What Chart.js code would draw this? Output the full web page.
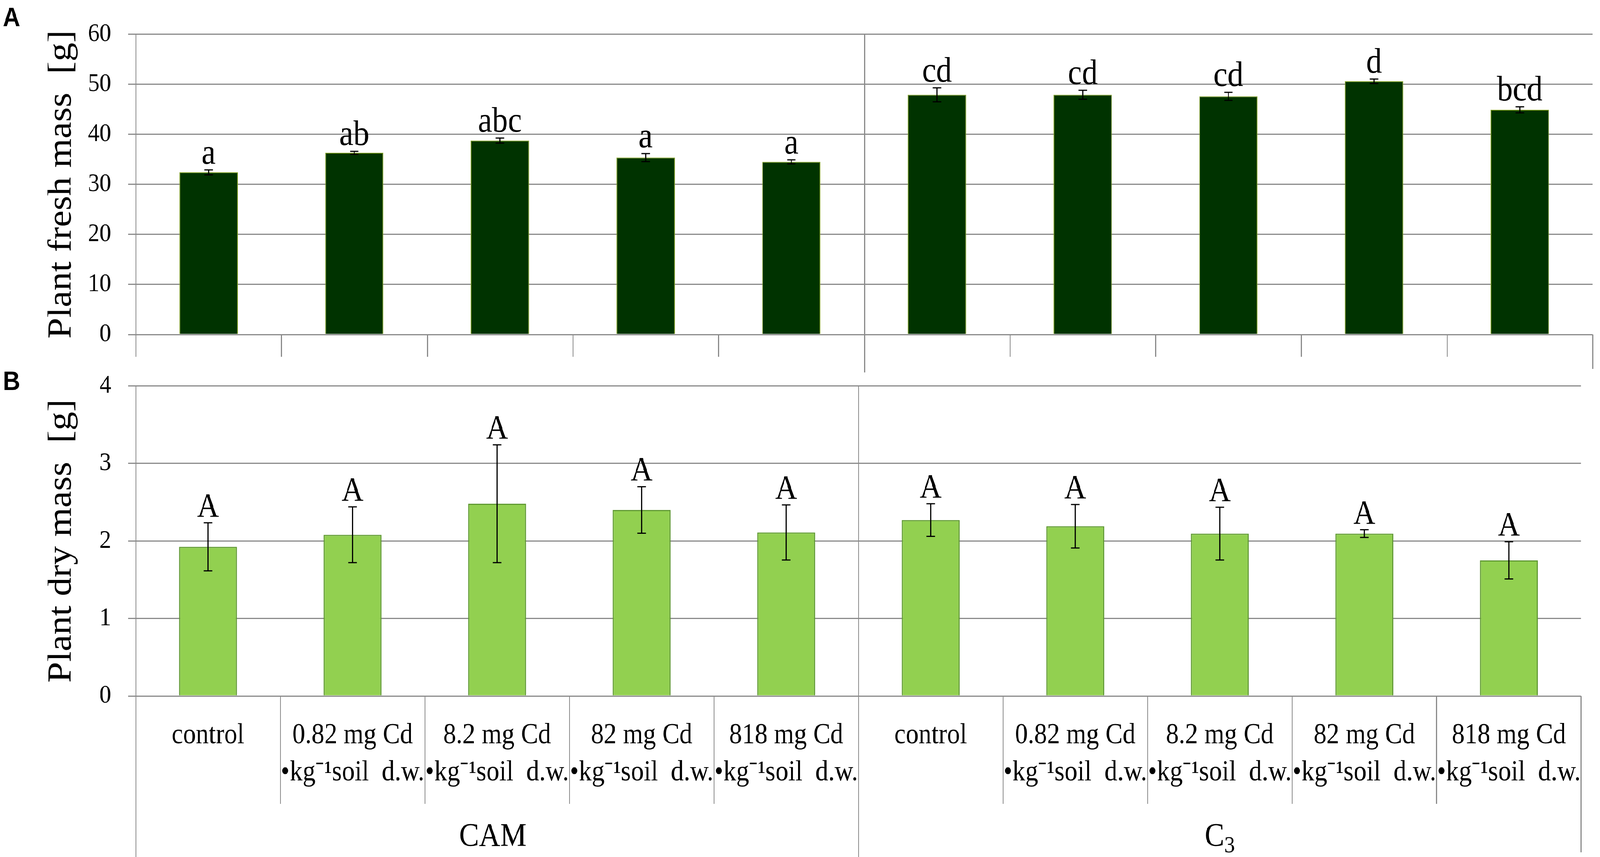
<!DOCTYPE html>
<html>
<head>
<meta charset="utf-8">
<script src="https://cdn.jsdelivr.net/npm/chart.js@4.4.1/dist/chart.umd.min.js"></script>
<style>
html,body{margin:0;padding:0;background:#ffffff;overflow:hidden;}
#wrap{position:absolute;left:0;top:0;width:4550px;height:2193px;overflow:hidden;background:#fff;transform-origin:0 0;}
#wrap canvas{position:absolute;left:0;}
#cA{top:0;}
#cB{top:900px;}
</style>
</head>
<body>
<div id="wrap">
<canvas id="cA" width="4550" height="960"></canvas>
<canvas id="cB" width="4550" height="1293"></canvas>
</div>
<script>
// ---------------- data ----------------
const categories = [
  'control',
  '0.82 mg Cd|•kg⁻¹soil  d.w.',
  '8.2 mg Cd|•kg⁻¹soil  d.w.',
  '82 mg Cd|•kg⁻¹soil  d.w.',
  '818 mg Cd|•kg⁻¹soil  d.w.',
  'control',
  '0.82 mg Cd|•kg⁻¹soil  d.w.',
  '8.2 mg Cd|•kg⁻¹soil  d.w.',
  '82 mg Cd|•kg⁻¹soil  d.w.',
  '818 mg Cd|•kg⁻¹soil  d.w.'
];
const groups = ['CAM', 'C3'];
const groupSizes = [5, 5];

const freshMass    = [32.4, 36.3, 38.75, 35.35, 34.5, 47.9, 47.9, 47.6, 50.6, 44.9];
const freshErr     = [0.5, 0.3, 0.5, 0.8, 0.4, 1.4, 0.9, 0.8, 0.45, 0.6];
const freshLetters = ['a', 'ab', 'abc', 'a', 'a', 'cd', 'cd', 'cd', 'd', 'bcd'];

const dryMass    = [1.925, 2.08, 2.48, 2.40, 2.11, 2.27, 2.19, 2.095, 2.095, 1.75];
const dryErr     = [0.31, 0.36, 0.76, 0.30, 0.355, 0.21, 0.28, 0.34, 0.05, 0.24];
const dryLetters = ['A', 'A', 'A', 'A', 'A', 'A', 'A', 'A', 'A', 'A'];

const freshTicks = {min: 0, max: 60, step: 10};
const dryTicks   = {min: 0, max: 4, step: 1};

// ---------------- fit design (4550 x 2193) to the actual viewport ----------------
const VW = document.documentElement.clientWidth || window.innerWidth;
const VH = document.documentElement.clientHeight || window.innerHeight;
const SX = VW / 4550, SY = VH / 2193;
document.getElementById('wrap').style.transform = 'scale(' + SX + ',' + SY + ')';
const DPR = (window.devicePixelRatio || 1) * Math.max(SX, SY);

// ---------------- styles ----------------
const GRID = '#8a8a8a';
const SERIF = '"Liberation Serif", "Times New Roman", serif';

function panelPlugin(p) {
  return {
    id: 'panel' + p.tag,
    afterDatasetsDraw(chart) {
      const ctx = chart.ctx, xs = chart.scales.x, ys = chart.scales.y;
      const meta = chart.getDatasetMeta(0);
      const n = p.values.length;
      ctx.save();
      // category separators, group divider and axis extensions
      ctx.strokeStyle = GRID; ctx.lineWidth = 3; ctx.lineCap = 'butt';
      const b = [];
      for (let i = 0; i <= n; i++) b.push(xs.left + (xs.right - xs.left) * i / n);
      const bottom = ys.bottom, top = ys.top;
      const line = (x, y1, y2) => { ctx.beginPath(); ctx.moveTo(Math.round(x) + 0.5, y1); ctx.lineTo(Math.round(x) + 0.5, y2); ctx.stroke(); };
      line(b[0], top, p.leftBottom);
      for (let i = 1; i < n; i++) {
        if (i === groupSizes[0]) line(b[i], top, p.midBottom);
        else line(b[i], bottom, p.sepBottom);
      }
      line(b[n], bottom, p.rightBottom);
      // error bars and significance letters
      ctx.strokeStyle = '#000'; ctx.lineWidth = 3;
      ctx.fillStyle = '#000';
      ctx.font = p.letterFont; ctx.textAlign = 'center'; ctx.textBaseline = 'alphabetic';
      for (let i = 0; i < n; i++) {
        const x = meta.data[i].x;
        const yt = ys.getPixelForValue(p.values[i] + p.err[i]);
        const yb = ys.getPixelForValue(p.values[i] - p.err[i]);
        ctx.beginPath();
        ctx.moveTo(x, yt); ctx.lineTo(x, yb);
        ctx.moveTo(x - 12, yt); ctx.lineTo(x + 12, yt);
        ctx.moveTo(x - 12, yb); ctx.lineTo(x + 12, yb);
        ctx.stroke();
        ctx.fillText(p.letters[i], x, yt - 16);
      }
      // panel letter
      ctx.font = 'bold 68px "Liberation Sans", Arial, sans-serif';
      ctx.textAlign = 'left';
      ctx.fillText(p.tag, 8, p.tagY);
      // group labels
      if (p.groupY) {
        let start = 0;
        groups.forEach((g, gi) => {
          const cx = (b[start] + b[start + groupSizes[gi]]) / 2;
          start += groupSizes[gi];
          if (g === 'C3') {
            ctx.font = '84px ' + SERIF;
            const wC = ctx.measureText('C').width;
            ctx.font = '60px ' + SERIF;
            const w3 = ctx.measureText('3').width;
            const x0 = cx - (wC + w3) / 2;
            ctx.textAlign = 'left';
            ctx.font = '84px ' + SERIF;
            ctx.fillText('C', x0, p.groupY);
            ctx.font = '60px ' + SERIF;
            ctx.fillText('3', x0 + wC, p.groupY + 16);
          } else {
            ctx.textAlign = 'center';
            ctx.font = '84px ' + SERIF;
            ctx.fillText(g, cx - 12, p.groupY);
          }
        });
      }
      ctx.restore();
    }
  };
}

function makeChart(id, cfg) {
  return new Chart(document.getElementById(id), {
    type: 'bar',
    data: {
      labels: cfg.labels,
      datasets: [{
        data: cfg.values,
        backgroundColor: cfg.fill,
        borderColor: cfg.border,
        borderWidth: cfg.borderWidth,
        barPercentage: 0.4,
        categoryPercentage: 1.0
      }]
    },
    options: {
      responsive: false,
      animation: false,
      devicePixelRatio: DPR,
      events: [],
      layout: {padding: {left: 0, right: 21, top: cfg.padTop, bottom: 0}},
      plugins: {legend: {display: false}, tooltip: {enabled: false}, title: {display: false}},
      scales: {
        x: {
          type: 'category',
          offset: true,
          grid: {display: false, drawTicks: false},
          border: {display: false},
          ticks: {
            display: cfg.showX,
            autoSkip: false, maxRotation: 0, minRotation: 0,
            padding: 54, color: '#000',
            font: {family: SERIF, size: 73, lineHeight: 1.3}
          },
          afterFit(s) { s.height = cfg.xHeight; }
        },
        y: {
          min: cfg.ticks.min, max: cfg.ticks.max,
          grid: {color: GRID, lineWidth: 3, drawTicks: true, tickLength: 22},
          border: {display: false},
          ticks: {stepSize: cfg.ticks.step, padding: 48, color: '#000', font: {family: SERIF, size: 66}},
          title: {display: true, text: cfg.title, color: '#000', font: {family: SERIF, size: 96, lineHeight: 1.2}, padding: {top: 118, bottom: 0}},
          afterFit(s) { s.width = 386; }
        }
      }
    },
    plugins: [panelPlugin(cfg.panel)]
  });
}

makeChart('cA', {
  labels: categories.map(s => s.split('|')),
  values: freshMass,
  fill: '#003300', border: '#7a9a1e', borderWidth: 2,
  padTop: 85, xHeight: 104, showX: false,
  ticks: freshTicks,
  title: 'Plant fresh mass  [g]',
  panel: {tag: 'A', tagY: 67, values: freshMass, err: freshErr, letters: freshLetters,
          letterFont: '90px ' + SERIF, leftBottom: 913, sepBottom: 913, midBottom: 953, rightBottom: 944, groupY: 0}
});

makeChart('cB', {
  labels: categories.map(s => s.split('|')),
  values: dryMass,
  fill: '#92d050', border: '#619a34', borderWidth: 3,
  padTop: 81, xHeight: 412, showX: true,
  ticks: dryTicks,
  title: 'Plant dry mass  [g]',
  panel: {tag: 'B', tagY: 98, values: dryMass, err: dryErr, letters: dryLetters,
          letterFont: '86px ' + SERIF, leftBottom: 1293, sepBottom: 1157, midBottom: 1293, rightBottom: 1281, groupY: 1265}
});
</script>
</body>
</html>
